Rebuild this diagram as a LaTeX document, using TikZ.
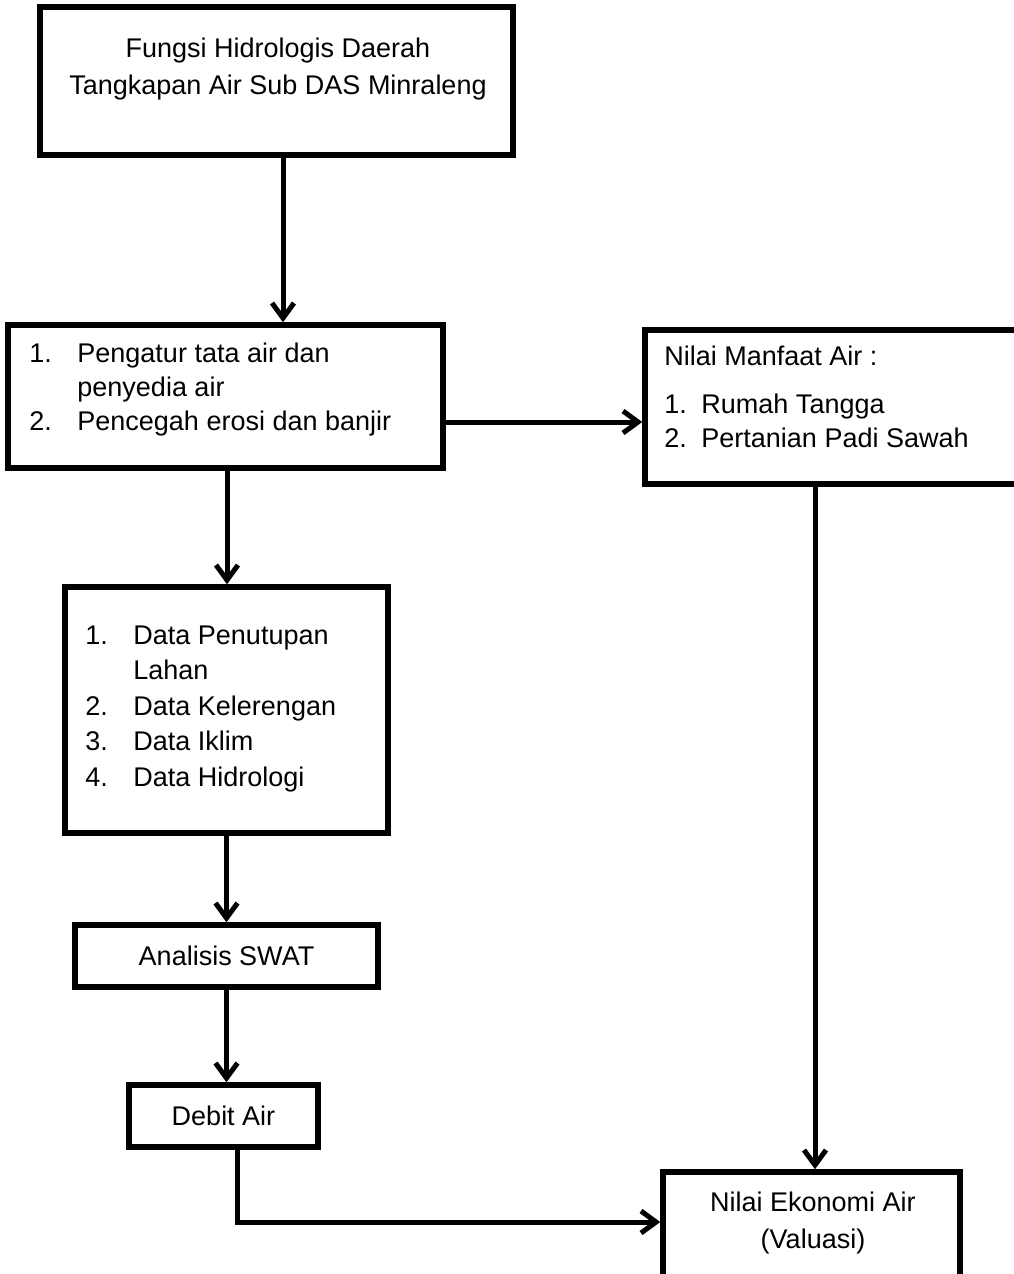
\documentclass[tikz,border=0pt]{standalone}
\usepackage{fontspec}
\setmainfont{Liberation Sans}
\usepackage{tikz}
\usetikzlibrary{positioning,arrows.meta}

\newcommand{\nr}[2][48pt]{\makebox[#1][l]{#2}}

\begin{document}
\begin{tikzpicture}[x=1pt,y=-1pt,
  box/.style={draw=black, line width=5.5pt, inner sep=0pt, outer sep=2.75pt, font=\fontsize{27}{34}\selectfont},
  txt/.style={inner sep=0pt, align=left, font=\fontsize{27}{34}\selectfont},
  arr/.style={black, line width=5pt, -{Straight Barb[length=15pt,width=22pt]}}]
\useasboundingbox (0,0) rectangle (1013,1274);
\node[box, minimum width=473pt, minimum height=148pt] (hidro) at (276.5,81) {};
\node[txt, align=center, font=\fontsize{27}{37}\selectfont] (hidroTxt) at (278,69) {Fungsi Hidrologis Daerah\\Tangkapan Air Sub DAS Minraleng};
\node[box, minimum width=435pt, minimum height=143pt] (fungsi) at (225.5,396.5) {};
\node[txt, below right=20pt and 24pt of fungsi.north west] (fungsiTxt) {\nr{1.}Pengatur tata air dan\\\nr{}penyedia air\\\nr{2.}Pencegah erosi dan banjir};
\node[box, minimum width=385pt, minimum height=154pt] (manfaat) at (837.5,407) {};
\node[txt, below right=18pt and 22pt of manfaat.north west] (manfaatTxt) {Nilai Manfaat Air :\\[14pt]\nr[37pt]{1.}Rumah Tangga\\\nr[37pt]{2.}Pertanian Padi Sawah};
\node[box, minimum width=323pt, minimum height=246pt] (data) at (226.5,710) {};
\node[txt, font=\fontsize{27}{35.5}\selectfont, below right=41pt and 23pt of data.north west] (dataTxt) {\nr{1.}Data Penutupan\\\nr{}Lahan\\\nr{2.}Data Kelerengan\\\nr{3.}Data Iklim\\\nr{4.}Data Hidrologi};
\node[box, minimum width=303pt, minimum height=62pt] (swat) at (226.5,956) {Analisis SWAT};
\node[box, minimum width=189pt, minimum height=62pt] (debit) at (223.5,1116) {Debit Air};
\node[box, minimum width=297pt, minimum height=118pt] (ekonomi) at (811.5,1231) {};
\node[txt, align=center, font=\fontsize{27}{37}\selectfont] (ekonomiTxt) at (813,1223) {Nilai Ekonomi Air\\(Valuasi)};
\draw[arr] ([xshift=6.5pt]hidro.south) -- ([xshift=6.5pt]hidro.south |- fungsi.north);
\draw[arr] ([xshift=1.5pt]fungsi.south) -- ([xshift=1.5pt]fungsi.south |- data.north);
\draw[arr] ([yshift=-25.5pt]fungsi.east) -- ([yshift=-25.5pt]fungsi.east -| manfaat.west);
\draw[arr] (data.south) -- (swat.north);
\draw[arr] (swat.south) -- (swat.south |- debit.north);
\draw[arr] ([xshift=13.5pt]debit.south) |- ([yshift=9pt]ekonomi.west);
\draw[arr] ([xshift=-22.5pt]manfaat.south) -- ([xshift=-22.5pt]manfaat.south |- ekonomi.north);
\end{tikzpicture}
\end{document}
